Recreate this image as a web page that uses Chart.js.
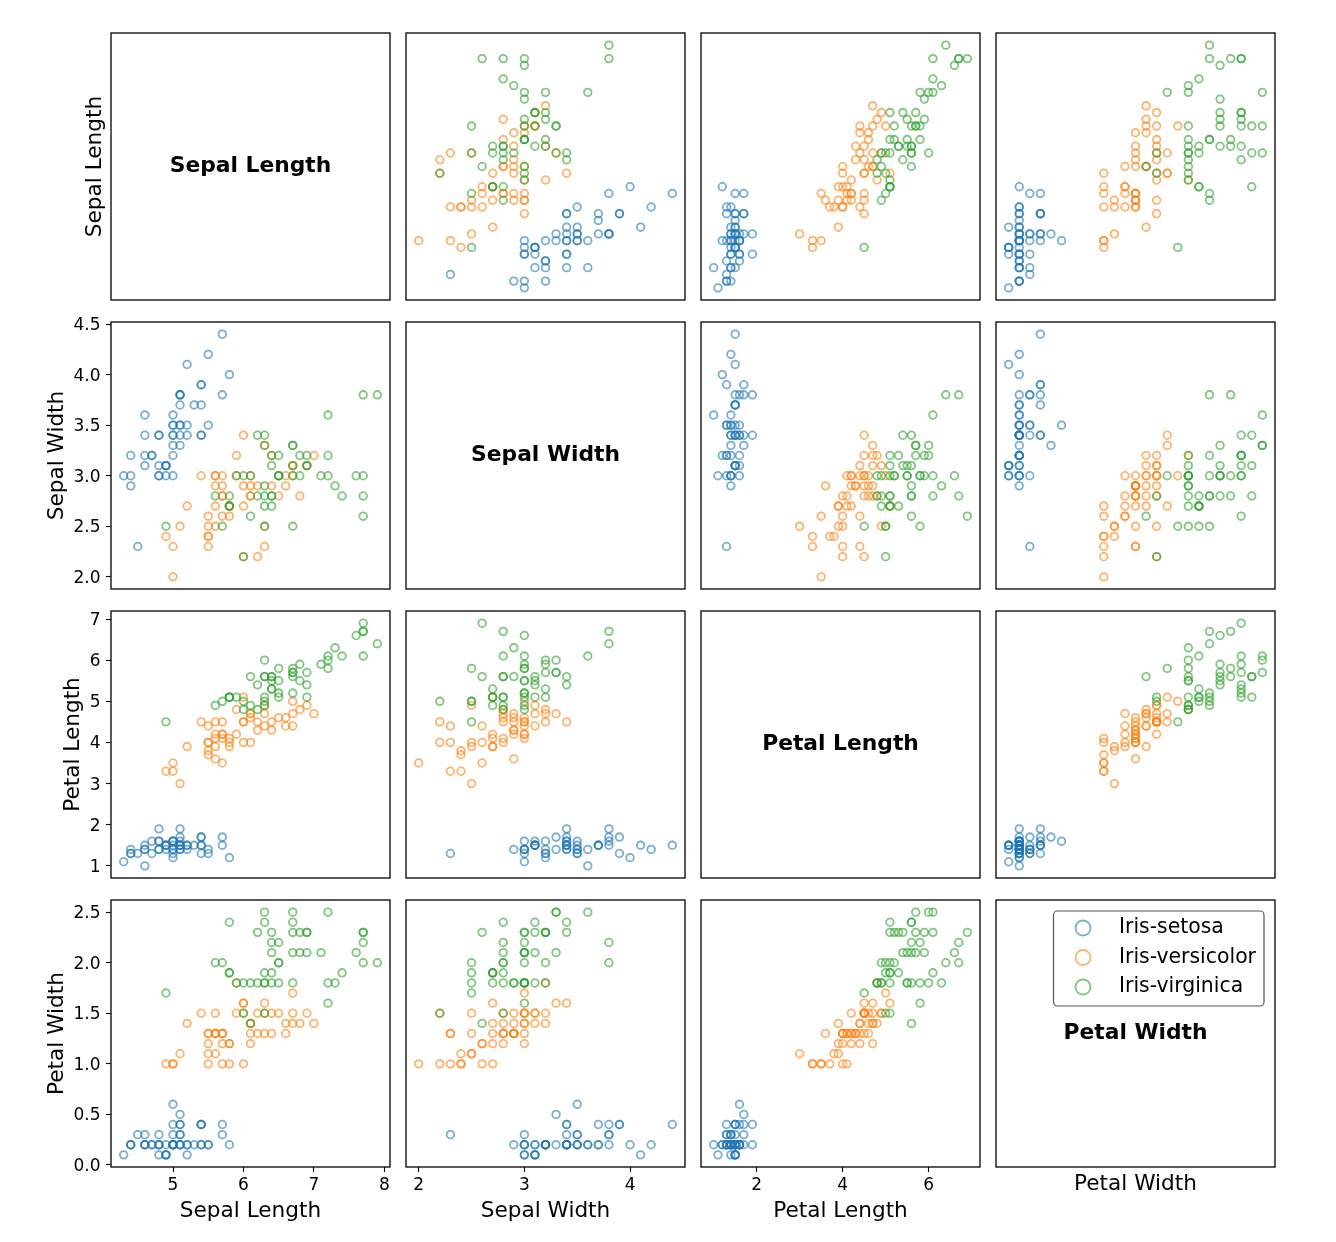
<!DOCTYPE html>
<html>
<head>
<meta charset="utf-8">
<script src="https://cdn.jsdelivr.net/npm/chart.js@4.4.0/dist/chart.umd.min.js"></script>
<style>
  body { margin: 0; background: #fff; }
  #grid { position: relative; width: 1336px; height: 1242px; background: #fff; overflow: hidden; }
  #grid canvas { position: absolute; }
</style>
</head>
<body>
<div id="grid"></div>
<script>
const features = ["Sepal Length", "Sepal Width", "Petal Length", "Petal Width"];
const species = ["Iris-setosa", "Iris-versicolor", "Iris-virginica"];
const speciesColors = ["31,119,180", "255,127,14", "44,160,44"];

const setosaSepalLength = [5.1,4.9,4.7,4.6,5.0,5.4,4.6,5.0,4.4,4.9,5.4,4.8,4.8,4.3,5.8,5.7,5.4,5.1,5.7,5.1,5.4,5.1,4.6,5.1,4.8,5.0,5.0,5.2,5.2,4.7,4.8,5.4,5.2,5.5,4.9,5.0,5.5,4.9,4.4,5.1,5.0,4.5,4.4,5.0,5.1,4.8,5.1,4.6,5.3,5.0];
const setosaSepalWidth = [3.5,3.0,3.2,3.1,3.6,3.9,3.4,3.4,2.9,3.1,3.7,3.4,3.0,3.0,4.0,4.4,3.9,3.5,3.8,3.8,3.4,3.7,3.6,3.3,3.4,3.0,3.4,3.5,3.4,3.2,3.1,3.4,4.1,4.2,3.1,3.2,3.5,3.1,3.0,3.4,3.5,2.3,3.2,3.5,3.8,3.0,3.8,3.2,3.7,3.3];
const setosaPetalLength = [1.4,1.4,1.3,1.5,1.4,1.7,1.4,1.5,1.4,1.5,1.5,1.6,1.4,1.1,1.2,1.5,1.3,1.4,1.7,1.5,1.7,1.5,1.0,1.7,1.9,1.6,1.6,1.5,1.4,1.6,1.6,1.5,1.5,1.4,1.5,1.2,1.3,1.5,1.3,1.5,1.3,1.3,1.3,1.6,1.9,1.4,1.6,1.4,1.5,1.4];
const setosaPetalWidth = [0.2,0.2,0.2,0.2,0.2,0.4,0.3,0.2,0.2,0.1,0.2,0.2,0.1,0.1,0.2,0.4,0.4,0.3,0.3,0.3,0.2,0.4,0.2,0.5,0.2,0.2,0.4,0.2,0.2,0.2,0.2,0.4,0.1,0.2,0.1,0.2,0.2,0.1,0.2,0.2,0.3,0.3,0.2,0.6,0.4,0.3,0.2,0.2,0.2,0.2];

const versicolorSepalLength = [7.0,6.4,6.9,5.5,6.5,5.7,6.3,4.9,6.6,5.2,5.0,5.9,6.0,6.1,5.6,6.7,5.6,5.8,6.2,5.6,5.9,6.1,6.3,6.1,6.4,6.6,6.8,6.7,6.0,5.7,5.5,5.5,5.8,6.0,5.4,6.0,6.7,6.3,5.6,5.5,5.5,6.1,5.8,5.0,5.6,5.7,5.7,6.2,5.1,5.7];
const versicolorSepalWidth = [3.2,3.2,3.1,2.3,2.8,2.8,3.3,2.4,2.9,2.7,2.0,3.0,2.2,2.9,2.9,3.1,3.0,2.7,2.2,2.5,3.2,2.8,2.5,2.8,2.9,3.0,2.8,3.0,2.9,2.6,2.4,2.4,2.7,2.7,3.0,3.4,3.1,2.3,3.0,2.5,2.6,3.0,2.6,2.3,2.7,3.0,2.9,2.9,2.5,2.8];
const versicolorPetalLength = [4.7,4.5,4.9,4.0,4.6,4.5,4.7,3.3,4.6,3.9,3.5,4.2,4.0,4.7,3.6,4.4,4.5,4.1,4.5,3.9,4.8,4.0,4.9,4.7,4.3,4.4,4.8,5.0,4.5,3.5,3.8,3.7,3.9,5.1,4.5,4.5,4.7,4.4,4.1,4.0,4.4,4.6,4.0,3.3,4.2,4.2,4.2,4.3,3.0,4.1];
const versicolorPetalWidth = [1.4,1.5,1.5,1.3,1.5,1.3,1.6,1.0,1.3,1.4,1.0,1.5,1.0,1.4,1.3,1.4,1.5,1.0,1.5,1.1,1.8,1.3,1.5,1.2,1.3,1.4,1.4,1.7,1.5,1.0,1.1,1.0,1.2,1.6,1.5,1.6,1.5,1.3,1.3,1.3,1.2,1.4,1.2,1.0,1.3,1.2,1.3,1.3,1.1,1.3];

const virginicaSepalLength = [6.3,5.8,7.1,6.3,6.5,7.6,4.9,7.3,6.7,7.2,6.5,6.4,6.8,5.7,5.8,6.4,6.5,7.7,7.7,6.0,6.9,5.6,7.7,6.3,6.7,7.2,6.2,6.1,6.4,7.2,7.4,7.9,6.4,6.3,6.1,7.7,6.3,6.4,6.0,6.9,6.7,6.9,5.8,6.8,6.7,6.7,6.3,6.5,6.2,5.9];
const virginicaSepalWidth = [3.3,2.7,3.0,2.9,3.0,3.0,2.5,2.9,2.5,3.6,3.2,2.7,3.0,2.5,2.8,3.2,3.0,3.8,2.6,2.2,3.2,2.8,2.8,2.7,3.3,3.2,2.8,3.0,2.8,3.0,2.8,3.8,2.8,2.8,2.6,3.0,3.4,3.1,3.0,3.1,3.1,3.1,2.7,3.2,3.3,3.0,2.5,3.0,3.4,3.0];
const virginicaPetalLength = [6.0,5.1,5.9,5.6,5.8,6.6,4.5,6.3,5.8,6.1,5.1,5.3,5.5,5.0,5.1,5.3,5.5,6.7,6.9,5.0,5.7,4.9,6.7,4.9,5.7,6.0,4.8,4.9,5.6,5.8,6.1,6.4,5.6,5.1,5.6,6.1,5.6,5.5,4.8,5.4,5.6,5.1,5.1,5.9,5.7,5.2,5.0,5.2,5.4,5.1];
const virginicaPetalWidth = [2.5,1.9,2.1,1.8,2.2,2.1,1.7,1.8,1.8,2.5,2.0,1.9,2.1,2.0,2.4,2.3,1.8,2.2,2.3,1.5,2.3,2.0,2.0,1.8,2.1,1.8,1.8,1.8,2.1,1.6,1.9,2.0,2.2,1.5,1.4,2.3,2.4,1.8,1.8,2.1,2.4,2.3,1.9,2.3,2.5,2.3,1.9,2.0,2.3,1.8];

// tick labels shown on the bottom row (x) and left column (y)
const xTickValues = [[5, 6, 7, 8], [2, 3, 4], [2, 4, 6], []];
const yTickValues = [[], [2.0, 2.5, 3.0, 3.5, 4.0, 4.5], [1, 2, 3, 4, 5, 6, 7], [0.0, 0.5, 1.0, 1.5, 2.0, 2.5]];
const xTickDecimals = [0, 0, 0, 0];
const yTickDecimals = [0, 1, 0, 1];

const byFeature = [
  [setosaSepalLength, setosaSepalWidth, setosaPetalLength, setosaPetalWidth],
  [versicolorSepalLength, versicolorSepalWidth, versicolorPetalLength, versicolorPetalWidth],
  [virginicaSepalLength, virginicaSepalWidth, virginicaPetalLength, virginicaPetalWidth]
];

// matplotlib-style 5% autoscale margins
const ranges = features.map((f, i) => {
  const all = byFeature.flatMap(s => s[i]);
  const lo = Math.min(...all), hi = Math.max(...all), pad = (hi - lo) * 0.05;
  return [lo - pad, hi + pad];
});

// layout of the grid
const colLeft = [111, 406, 701, 996];
const rowTop = [33, 322, 611, 900];
const PANEL_W = 279, PANEL_H = 267;
const ML = 105, MT = 20, MR = 20, MB = 70;
const yAxisWidth = [29, 67, 51, 67];
const xAxisHeight = [57, 57, 57, 30];

const FONT = "'DejaVu Sans', sans-serif";
const tickFont = { family: FONT, size: 17 };
const titleFont = { family: FONT, size: 21.6, lineHeight: 1.2 };

const frame = {
  id: "frame",
  afterDatasetsDraw(chart) {
    const { ctx, chartArea: a } = chart;
    ctx.save();
    ctx.strokeStyle = "#000";
    ctx.lineWidth = 1.3;
    ctx.strokeRect(a.left, a.top, a.right - a.left, a.bottom - a.top);
    ctx.restore();
  }
};

function diagLabel(text) {
  return {
    id: "diagLabel",
    afterDraw(chart) {
      const { ctx, chartArea: a } = chart;
      ctx.save();
      ctx.font = "bold 21.8px " + FONT;
      ctx.fillStyle = "#000";
      ctx.textAlign = "center";
      ctx.textBaseline = "middle";
      ctx.fillText(text, (a.left + a.right) / 2, (a.top + a.bottom) / 2);
      ctx.restore();
    }
  };
}

const legendBox = {
  id: "legendBox",
  afterDraw(chart) {
    const { ctx, chartArea: a } = chart;
    const sets = chart.data.datasets;
    ctx.save();
    ctx.font = "20.4px " + FONT;
    const textW = Math.max(...sets.map(d => ctx.measureText(d.label).width));
    const w = 65.5 + textW + 8, h = 95;
    const x0 = a.right - 11 - w, y0 = a.top + 11;
    ctx.beginPath();
    ctx.roundRect(x0, y0, w, h, 4);
    ctx.fillStyle = "rgba(255,255,255,0.8)";
    ctx.fill();
    ctx.strokeStyle = "#555";
    ctx.lineWidth = 1.2;
    ctx.stroke();
    sets.forEach((d, i) => {
      const cy = y0 + 17 + i * 29.5;
      ctx.beginPath();
      ctx.arc(x0 + 29.5, cy, 7.5, 0, Math.PI * 2);
      ctx.strokeStyle = d.borderColor;
      ctx.lineWidth = 1.8;
      ctx.stroke();
      ctx.fillStyle = "#000";
      ctx.textAlign = "left";
      ctx.textBaseline = "middle";
      ctx.fillText(d.label, x0 + 65.5, cy);
    });
    ctx.restore();
  }
};

const grid = document.getElementById("grid");

function makePanel(r, c) {
  const canvas = document.createElement("canvas");
  canvas.width = PANEL_W + ML + MR;
  canvas.height = PANEL_H + MT + MB;
  canvas.style.left = (colLeft[c] - ML) + "px";
  canvas.style.top = (rowTop[r] - MT) + "px";
  grid.appendChild(canvas);

  const diag = r === c;
  const showY = c === 0;
  const showX = r === 3;
  const yW = showY ? yAxisWidth[r] : 0;
  const xH = showX ? xAxisHeight[c] : 0;

  const datasets = species.map((name, s) => ({
    label: name,
    data: diag ? [] : byFeature[s][c].map((v, i) => ({ x: v, y: byFeature[s][r][i] })),
    borderColor: `rgba(${speciesColors[s]},0.6)`,
    backgroundColor: "rgba(0,0,0,0)",
    pointRadius: 3.8,
    pointBorderWidth: 1.8,
    pointStyle: "circle",
    order: 3 - s
  }));

  const plugins = [frame];
  if (diag) plugins.push(diagLabel(features[r]));
  if (r === 3 && c === 3) plugins.push(legendBox);

  new Chart(canvas, {
    type: "scatter",
    data: { datasets },
    options: {
      responsive: false,
      animation: false,
      events: [],
      layout: { padding: { left: ML - yW, top: MT, right: MR, bottom: MB - xH } },
      plugins: { legend: { display: false }, tooltip: { enabled: false } },
      scales: {
        x: {
          type: "linear",
          position: "bottom",
          min: ranges[c][0],
          max: ranges[c][1],
          afterBuildTicks: s => { s.ticks = xTickValues[c].map(v => ({ value: v })); },
          afterFit: s => { s.height = xH; },
          grid: { display: showX && !diag, drawOnChartArea: false, tickLength: 5, tickColor: "#000", tickWidth: 1.1 },
          border: { display: false },
          ticks: {
            display: showX && !diag,
            autoSkip: false,
            maxRotation: 0,
            color: "#000",
            font: tickFont,
            padding: 3,
            callback: v => Number(v).toFixed(xTickDecimals[c])
          },
          title: { display: showX, text: features[c], color: "#000", font: titleFont, padding: 0 }
        },
        y: {
          type: "linear",
          position: "left",
          min: ranges[r][0],
          max: ranges[r][1],
          afterBuildTicks: s => { s.ticks = yTickValues[r].map(v => ({ value: v })); },
          afterFit: s => { s.width = yW; },
          grid: { display: showY && !diag, drawOnChartArea: false, tickLength: 5, tickColor: "#000", tickWidth: 1.1 },
          border: { display: false },
          ticks: {
            display: showY && !diag,
            autoSkip: false,
            color: "#000",
            font: tickFont,
            padding: 5.5,
            labelOffset: 1.5,
            callback: v => Number(v).toFixed(yTickDecimals[r])
          },
          title: { display: showY, text: features[r], color: "#000", font: titleFont, padding: 0 }
        }
      }
    },
    plugins
  });
}

for (let r = 0; r < 4; r++) {
  for (let c = 0; c < 4; c++) makePanel(r, c);
}
</script>
</body>
</html>
